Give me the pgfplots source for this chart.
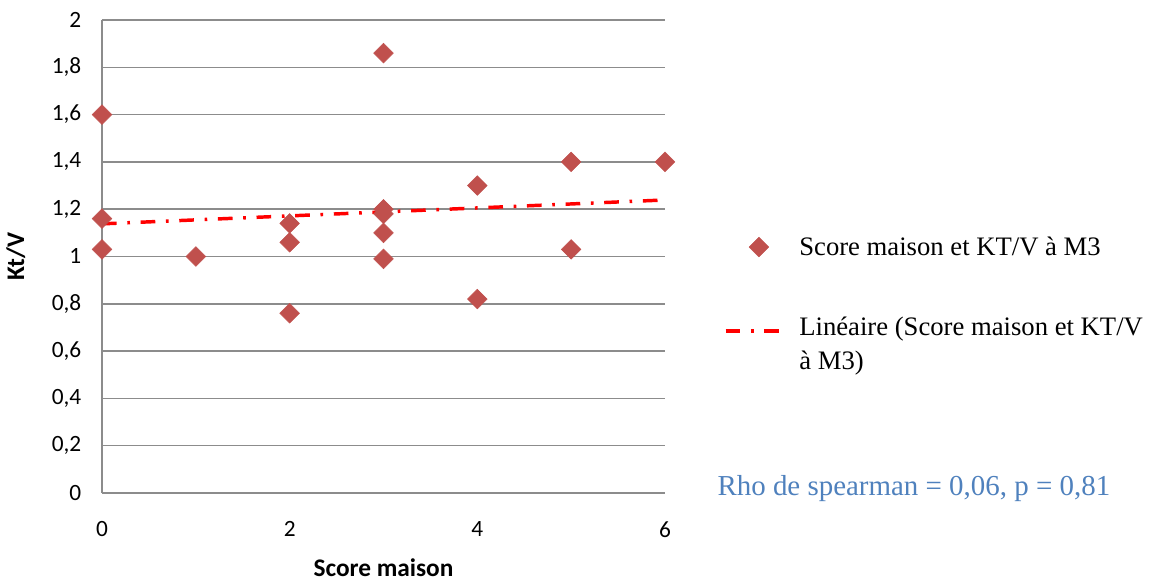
\documentclass[border=0pt]{standalone}
\usepackage{pgfplots}
\pgfplotsset{compat=1.18}
\usepackage{fontspec}
\setmainfont{Carlito}
\newfontfamily\tnr{Liberation Serif}
\definecolor{mk}{HTML}{C0504D}
\definecolor{rho}{HTML}{4F81BD}
\definecolor{grd}{HTML}{8C8C8C}
\pgfplotsset{
  legmark/.style={legend image code/.code={\draw[##1] plot coordinates {(20pt,0pt)};\path (-5pt,-10pt) (47pt,10pt);}},
  legline/.style={legend image code/.code={\draw[##1] (-5pt,10pt) -- (37.5pt,10pt);\path (-5pt,-10pt) (47pt,10pt);}},
}

\begin{document}
\begin{tikzpicture}
\begin{axis}[
  name=ax,
  scale only axis,
  width=422.25pt, height=354.75pt,
  xmin=0, xmax=6, ymin=0, ymax=2,
  xtick={0,2,4,6}, ytick={0,0.2,...,2},
  axis x line*=bottom, axis y line*=left,
  x axis line style={draw=none}, y axis line style={grd, line width=1.1pt, -},
  ymajorgrids, grid style={grd, line width=1.1pt},
  major tick length=0pt,
  tick label style={font=\fontsize{17.5}{20}\selectfont},
  /pgf/number format/assume math mode=true,
  /pgf/number format/use comma,
  yticklabel style={/pgf/number format/fixed, xshift=-12pt},
  xticklabel style={yshift=-18pt},
  xlabel={\textbf{Score maison}}, ylabel={\textbf{Kt/V}},
  label style={font=\fontsize{19}{22}\selectfont},
  xlabel style={yshift=-9pt}, ylabel style={yshift=13pt},
  clip=false,
  legend style={draw=none, fill=none, at={(rel axis cs:1.097,0.555)}, anchor=north west,
    font=\tnr\fontsize{20}{26}\selectfont, row sep=40pt,
    nodes={align=left, anchor=west}},
  legend cell align=left,
]
\addplot[only marks, mark=square*, mark size=5.2pt, mk, mark options={fill=mk, draw=mk, rotate=45}, legmark] coordinates {
(0,1.6) (0,1.16) (0,1.03) (1,1.0) (2,1.14) (2,1.06) (2,0.76)
(3,1.86) (3,1.2) (3,1.18) (3,1.1) (3,0.99) (4,1.3) (4,0.82)
(5,1.4) (5,1.03) (6,1.4)};
\addlegendentry{Score maison et KT/V à M3}
\addplot[red, line width=2.6pt, dash pattern=on 11pt off 8pt on 2pt off 8pt, legline] coordinates {(0,1.138) (6,1.239)};
\addlegendentry{Linéaire (Score maison et KT/V\\à M3)}
\node[anchor=base west, text=rho, font=\tnr\fontsize{21.7}{24}\selectfont] at (rel axis cs:1.085,-0.005) {Rho de spearman = 0,06, p = 0,81};
\end{axis}
\path[use as bounding box] ([shift={(-76.5pt,-67.5pt)}]ax.south west) rectangle ([shift={(364.5pt,15pt)}]ax.north east);
\end{tikzpicture}
\end{document}
